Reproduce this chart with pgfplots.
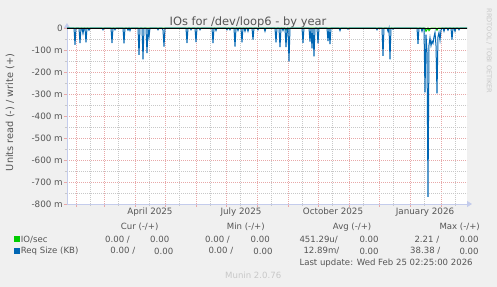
\documentclass[border=0pt]{standalone}
\usepackage{pgfplots}
\pgfplotsset{compat=1.18}
\usepackage{fontspec}
\setmainfont{DejaVu Sans}
\usetikzlibrary{arrows.meta}
\definecolor{bg}{HTML}{F0F0F0}
\definecolor{txt}{HTML}{555555}
\definecolor{faint}{HTML}{C8C8C8}
\definecolor{gridred}{HTML}{E8A8A8}
\definecolor{gridgray}{HTML}{C8C8C8}
\definecolor{axiscol}{HTML}{C4CCEC}
\definecolor{ioblue}{HTML}{0066B3}
\definecolor{iogreen}{HTML}{00CC00}
\begin{document}
\begin{tikzpicture}
\fill[bg] (0bp,0bp) rectangle (497bp,287bp);
\begin{axis}[
  at={(67bp,83bp)}, anchor=south west, scale only axis,
  width=400bp, height=176bp,
  xmin=22, xmax=422, ymin=-800, ymax=0, clip=false,
  axis background/.style={fill=white},
  axis lines=left,
  axis line style={draw=axiscol, line width=0.8bp, shorten >=-5bp, -{Triangle[length=5bp,width=6bp]}},
  xtick={31,59,90,120,151,181,212,243,273,304,334,365,396},
  xticklabels={},
  minor xtick={45,73,104,134,165,195,226,257,287,318,348,379,410},
  extra x ticks={105,196,288,380},
  extra x tick labels={April 2025,July 2025,October 2025,January 2026},
  extra x tick style={grid=none, major tick length=0pt},
  ytick={-800,-700,-600,-500,-400,-300,-200,-100,0},
  yticklabels={-800 m,-700 m,-600 m,-500 m,-400 m,-300 m,-200 m,-100 m,{0\hspace{6bp}}},
  minor ytick={-750,-650,-550,-450,-350,-250,-150,-50},
  grid=both,
  major grid style={dash pattern=on 1bp off 1bp, draw=gridred, line width=0.6bp},
  minor grid style={dash pattern=on 1bp off 1bp, draw=gridgray, line width=0.6bp},
  major tick length=3bp, minor tick length=2bp, tick align=outside,
  major tick style={draw=gridred, line width=0.7bp},
  minor tick style={draw=gridgray, line width=0.7bp},
  xticklabel style={font=\fontsize{8.8}{10}\selectfont, text=txt, inner sep=0pt, yshift=-4bp},
  yticklabel style={font=\fontsize{8.8}{10}\selectfont, text=txt, inner sep=0pt, xshift=-1bp},
  title={IOs for /dev/loop6 - by year},
  every axis title/.style={at={(axis description cs:0.4525,1.035)}, anchor=center, font=\fontsize{11.5}{13}\selectfont, text=txt},
  ylabel={Units read (-) / write (+)},
  every axis y label/.style={at={(axis description cs:-0.1425,0.52)}, rotate=90, anchor=center, font=\fontsize{9.8}{11}\selectfont, text=txt},
]
\addplot[iogreen, line width=1bp] coordinates {
(22,0)(240,0)(241,-8)(242,0)(380,0)(381,-15)(382,-8)(383,0)(384,-12)(385,-5)(386,0)(391,0)(392,-10)(393,0)(422,0)
};
\addplot[ioblue, line width=1bp] coordinates {
(22,0)(29,0)(30,-76)(31,0)(34,0)(35,-69)(36,0)(37,0)(38,-25)(39,0)(40,0)(41,-65)(42,0)(43,0)(44,-10)(45,0)
(57,0)(58,-8)(59,0)(66,0)(67,-68)(68,0)(69,0)(70,-8)(71,0)(78,0)(79,-70)(80,0)(82,0)(83,-10)(84,0)(85,-12)(86,0)
(93,0)(94,-122)(95,0)(97,0)(98,-142)(99,0)(101,0)(102,-114)(103,0)(104,-40)(105,0)
(112,0)(113,-8)(114,0)(117,0)(118,-10)(119,-84)(120,0)
(141,0)(142,-68)(143,0)(145,0)(146,-8)(147,0)(150,0)(151,-64)(152,0)(154,0)(155,-8)(156,0)
(167,0)(168,-69)(169,0)(170,0)(171,-12)(172,0)(181,0)(182,-8)(183,0)(184,0)(185,-8)(186,0)
(189,0)(190,-84)(191,0)(192,0)(193,-12)(194,0)(196,0)(197,-65)(198,0)(199,0)(200,-15)(201,0)
(202,0)(203,-15)(204,0)(207,0)(208,-53)(209,0)(212,0)(213,-8)(214,0)(219,0)(220,-15)(221,0)
(230,0)(231,-65)(232,0)(234,0)(235,-87)(236,0)(237,0)(238,-12)(239,0)(240,0)(241,-87)(242,0)
(243,0)(244,-152)(245,0)(257,0)(258,-67)(259,0)(264,0)(265,-62)(266,0)(267,-93)(268,0)(269,-129)(270,0)
(272,0)(273,-70)(274,0)(282,0)(283,-60)(284,0)(285,-73)(286,0)(294,0)(295,-12)(296,0)(302,0)(303,-5)(304,0)
(331,0)(332,-8)(333,0)(337,0)(338,-127)(339,0)(342,0)(343,-15)(344,0)(345,-142)(346,0)(347,0)(348,-5)(349,0)
(372,0)(373,-72)(374,0)(376,0)(377,-15)(378,0)(379,0)(380,-293)(381,-30)(382,-110)(383,-768)(384,-78)
(385,-45)(386,-80)(387,-60)(388,-70)(389,-40)(390,-20)(391,-80)(392,-297)(393,-40)(394,-20)(395,-55)(396,-10)
(397,0)(398,0)(399,-15)(400,0)(402,0)(403,-10)(404,0)(406,0)(407,-53)(408,0)(409,0)(410,-15)(411,0)
(413,0)(414,-8)(415,0)(422,0)
};
\addplot[black, line width=1bp] coordinates {(22,0)(422,0)};
\end{axis}
\begin{scope}[x=1bp,y=1bp]
\fill[iogreen] (14,44.5) rectangle (20,50.5);
\fill[ioblue] (14,32.5) rectangle (20,38.5);
\begin{scope}[every node/.style={inner sep=0pt, text=txt, font=\fontsize{8.6}{10}\selectfont}]
\node[anchor=west] at (120.7,60.3) {Cur (-/+)};
\node[anchor=west] at (226.7,60.3) {Min (-/+)};
\node[anchor=west] at (332.7,60.3) {Avg (-/+)};
\node[anchor=west] at (439.3,60.3) {Max (-/+)};
\node[anchor=west] at (20.7,47.7) {IO/sec};
\node[anchor=west] at (105,47.7) {0.00 /};
\node[anchor=west] at (150,47.7) {0.00};
\node[anchor=west] at (205,47.7) {0.00 /};
\node[anchor=east] at (270,47.7) {0.00};
\node[anchor=west] at (299.3,47.7) {451.29u/};
\node[anchor=west] at (359.3,47.7) {0.00};
\node[anchor=west] at (414.3,47.7) {2.21 /};
\node[anchor=west] at (459.3,47.7) {0.00};
\node[anchor=west] at (20.7,36) {Req Size (KB)};
\node[anchor=west] at (110.3,36) {0.00 /};
\node[anchor=west] at (154,36) {0.00};
\node[anchor=west] at (208.3,36) {0.00 /};
\node[anchor=east] at (272.7,36) {0.00};
\node[anchor=west] at (303.3,36) {12.89m/};
\node[anchor=west] at (359.3,36) {0.00};
\node[anchor=west] at (410,36) {38.38 /};
\node[anchor=west] at (459.3,36) {0.00};
\node[anchor=west] at (299.3,24.3) {Last update: Wed Feb 25 02:25:00 2026};
\node[anchor=west, text=faint] at (225,12) {Munin 2.0.76};
\end{scope}
\node[rotate=-90, text=faint, inner sep=0pt, font=\fontsize{6.6}{8}\selectfont] at (489,236) {RRDTOOL / TOBI OETIKER};
\end{scope}
\end{tikzpicture}
\end{document}
